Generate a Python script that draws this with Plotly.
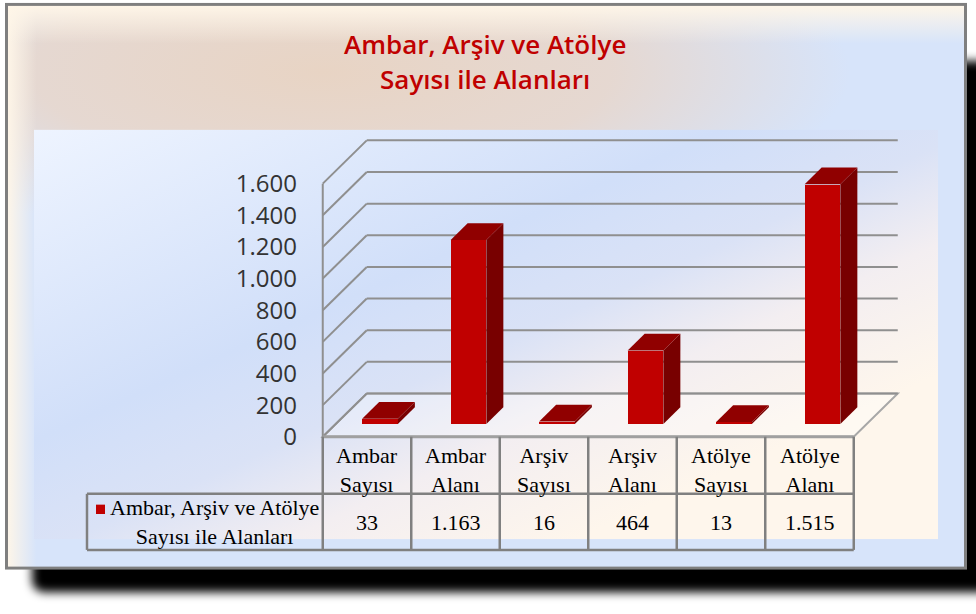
import base64
import plotly.graph_objects as go

# ---------------- data ----------------
categories = ["Ambar Sayısı", "Ambar Alanı", "Arşiv Sayısı", "Arşiv Alanı", "Atölye Sayısı", "Atölye Alanı"]
header_labels = ["Ambar<br>Sayısı", "Ambar<br>Alanı", "Arşiv<br>Sayısı", "Arşiv<br>Alanı", "Atölye<br>Sayısı", "Atölye<br>Alanı"]
values = [33, 1163, 16, 464, 13, 1515]
y_ticks = [0, 200, 400, 600, 800, 1000, 1200, 1400, 1600]
series_name = "Ambar, Arşiv ve Atölye<br>Sayısı ile Alanları"
title_lines = ["Ambar, Arşiv ve Atölye", "Sayısı ile Alanları"]

# ---------------- geometry (page pixels) ----------------
W, H = 976, 614
COL_W = 88.5           # px per category
COL0 = 367.0           # px centre of first category
Y0_PX = 444.0          # px of value 0 (front edge)
PX_PER_UNIT = 32.165 / 200.0
PLOT_L, PLOT_R, PLOT_T, PLOT_B = 318, 904, 136, 449
DEPTH = 44             # wall depth px
BAR_SHIFT = 13         # bar front offset into depth px
BAR_DEPTH = 17         # bar depth px
BAR_W = 35.7           # bar front width px

def dxu(px):
    return px / COL_W

def dyu(px):
    return px / PX_PER_UNIT

def px_x(px):
    return px / W

def px_y(py):
    return 1 - py / H

n = len(categories)
xs = list(range(n))
x_front_left = -0.5
x_front_right = n - 0.5

GRID = "#8F8F8F"
shapes = []

# floor
fl = [(x_front_left, 0), (x_front_right, 0),
      (x_front_right + dxu(DEPTH), dyu(DEPTH)), (x_front_left + dxu(DEPTH), dyu(DEPTH))]
shapes.append(dict(type="path", xref="x", yref="y", layer="below",
                   path="M " + " L ".join(f"{a},{b}" for a, b in fl) + " Z",
                   fillcolor="rgba(255,255,255,0.3)", line=dict(color="#A8A8A8", width=2)))

# gridlines: left wall slant + back wall
for t in y_ticks:
    shapes.append(dict(type="line", xref="x", yref="y", layer="below",
                       x0=x_front_left, y0=t, x1=x_front_left + dxu(DEPTH), y1=t + dyu(DEPTH),
                       line=dict(color=GRID, width=2)))
    shapes.append(dict(type="line", xref="x", yref="y", layer="below",
                       x0=x_front_left + dxu(DEPTH), y0=t + dyu(DEPTH),
                       x1=x_front_right + dxu(DEPTH), y1=t + dyu(DEPTH),
                       line=dict(color=GRID, width=2)))
# left wall front edge
shapes.append(dict(type="line", xref="x", yref="y", layer="below",
                   x0=x_front_left, y0=0, x1=x_front_left, y1=y_ticks[-1],
                   line=dict(color=GRID, width=2)))

# bars: side + top faces
bar_x = [x + dxu(BAR_SHIFT) for x in xs]
bar_base = dyu(BAR_SHIFT)
bw = dxu(BAR_W)
ddx, ddy = dxu(BAR_DEPTH), dyu(BAR_DEPTH)
for xc, v in zip(bar_x, values):
    xl, xr = xc - bw / 2, xc + bw / 2
    top = bar_base + v
    side = [(xr, bar_base), (xr + ddx, bar_base + ddy), (xr + ddx, top + ddy), (xr, top)]
    topf = [(xl, top), (xl + ddx, top + ddy), (xr + ddx, top + ddy), (xr, top)]
    shapes.append(dict(type="path", xref="x", yref="y", layer="above",
                       path="M " + " L ".join(f"{a},{b}" for a, b in side) + " Z",
                       fillcolor="#780000", line=dict(width=0)))
    shapes.append(dict(type="path", xref="x", yref="y", layer="above",
                       path="M " + " L ".join(f"{a},{b}" for a, b in topf) + " Z",
                       fillcolor="#900000", line=dict(width=0)))

# ---------------- data table ----------------
TBL = "#808080"
T_TOP, T_MID, T_BOT, T_LEFT = 444, 502, 559, 87
col_edges = [COL0 + COL_W * (k - 0.5) for k in range(n + 1)]
shapes.append(dict(type="line", xref="paper", yref="paper",
                   x0=px_x(col_edges[0]), x1=px_x(col_edges[-1]), y0=px_y(T_TOP), y1=px_y(T_TOP),
                   line=dict(color="#A0A0A0", width=3)))
for e in col_edges:
    shapes.append(dict(type="line", xref="paper", yref="paper",
                       x0=px_x(e), x1=px_x(e), y0=px_y(T_TOP), y1=px_y(T_BOT),
                       line=dict(color=TBL, width=2.5)))
for yy in (T_MID, T_BOT):
    shapes.append(dict(type="line", xref="paper", yref="paper",
                       x0=px_x(T_LEFT), x1=px_x(col_edges[-1]), y0=px_y(yy), y1=px_y(yy),
                       line=dict(color=TBL, width=2.5)))
shapes.append(dict(type="line", xref="paper", yref="paper",
                   x0=px_x(T_LEFT), x1=px_x(T_LEFT), y0=px_y(T_MID), y1=px_y(T_BOT),
                   line=dict(color=TBL, width=2.5)))
# legend key
shapes.append(dict(type="rect", xref="paper", yref="paper",
                   x0=px_x(96), x1=px_x(105), y0=px_y(513), y1=px_y(522.5),
                   fillcolor="#C00000", line=dict(width=0)))

SERIF = "Liberation Serif"
TFS = 22
annotations = []
for x, lab in zip(xs, header_labels):
    annotations.append(dict(x=x, xref="x", y=px_y(478), yref="paper", text=lab, showarrow=False,
                            xanchor="center", yanchor="middle", align="center",
                            font=dict(family=SERIF, size=TFS, color="#000")))
for x, v in zip(xs, values):
    annotations.append(dict(x=x, xref="x", y=px_y(531), yref="paper",
                            text=f"{v:,}".replace(",", "."), showarrow=False,
                            xanchor="center", yanchor="middle",
                            font=dict(family=SERIF, size=TFS, color="#000")))
annotations.append(dict(x=px_x(214), xref="paper", y=px_y(531), yref="paper", text=series_name,
                        showarrow=False, xanchor="center", yanchor="middle", align="center",
                        font=dict(family=SERIF, size=TFS, color="#000")))
# title (two centred lines)
for line, yc in zip(title_lines, (45, 80.5)):
    annotations.append(dict(x=px_x(485), xref="paper", y=px_y(yc), yref="paper", text=line,
                            showarrow=False, xanchor="center", yanchor="middle",
                            font=dict(family="Open Sans", size=26, color="#C00000", weight=600)))

# ---------------- background (gradients) ----------------
svg = f"""<svg xmlns="http://www.w3.org/2000/svg" width="{W}" height="{H}" viewBox="0 0 {W} {H}">
<defs>
<filter id="blur" x="-5%" y="-5%" width="110%" height="110%"><feGaussianBlur stdDeviation="5"/></filter>
<radialGradient id="peach" cx="0.33" cy="0.12" r="0.55" gradientTransform="translate(0.33 0.12) scale(1 0.55) translate(-0.33 -0.12)">
<stop offset="0" stop-color="#E8D4C4" stop-opacity="1"/>
<stop offset="0.55" stop-color="#E8D6CA" stop-opacity="0.85"/>
<stop offset="1" stop-color="#E8D6CA" stop-opacity="0"/>
</radialGradient>
<linearGradient id="leftglow" x1="0" y1="0" x2="1" y2="0">
<stop offset="0" stop-color="#FFF6E8" stop-opacity="1"/>
<stop offset="1" stop-color="#FFF6E8" stop-opacity="0"/>
</linearGradient>
<linearGradient id="topglow" x1="0" y1="0" x2="0" y2="1">
<stop offset="0" stop-color="#FFF6E8" stop-opacity="1"/>
<stop offset="1" stop-color="#FFF6E8" stop-opacity="0"/>
</linearGradient>
<linearGradient id="inner" x1="0" y1="0" x2="1" y2="1">
<stop offset="0" stop-color="#EEF4FF"/>
<stop offset="0.38" stop-color="#D1DFF9"/>
<stop offset="0.52" stop-color="#DAE2F6"/>
<stop offset="0.64" stop-color="#F3EEF1"/>
<stop offset="0.8" stop-color="#FEF6EC"/>
<stop offset="1" stop-color="#FEF6EC"/>
</linearGradient>
</defs>
<rect x="32" y="62" width="960" height="540" rx="12" fill="#000" filter="url(#blur)"/>
<rect x="6.5" y="4.5" width="959" height="573" fill="#D7E4FA"/>
<rect x="6.5" y="4.5" width="959" height="573" fill="url(#peach)"/>
<rect x="6.5" y="4.5" width="30" height="573" fill="url(#leftglow)"/>
<rect x="6.5" y="4.5" width="959" height="40" fill="url(#topglow)"/>
<rect x="6.5" y="4.5" width="959" height="573" fill="none" stroke="#7F7F7F" stroke-width="3"/>
<rect x="34" y="132" width="904" height="416" fill="url(#inner)"/>
</svg>"""
bg_src = "data:image/svg+xml;base64," + base64.b64encode(svg.encode("utf-8")).decode("ascii")

# ---------------- figure ----------------
fig = go.Figure()
fig.add_trace(go.Bar(x=bar_x, y=values, base=[bar_base] * n, width=bw,
                     name=series_name, marker=dict(color="#C00000", line=dict(width=0)),
                     customdata=categories, hovertemplate="%{customdata}: %{y:,}<extra></extra>",
                     showlegend=False))

fig.update_layout(
    width=W, height=H, autosize=False,
    margin=dict(l=0, r=0, t=0, b=0),
    paper_bgcolor="white", plot_bgcolor="rgba(0,0,0,0)",
    separators=",.",
    xaxis=dict(domain=[px_x(PLOT_L), px_x(PLOT_R)],
               range=[(PLOT_L - COL0) / COL_W, (PLOT_R - COL0) / COL_W],
               showgrid=False, zeroline=False, showticklabels=False, showline=False, fixedrange=True),
    yaxis=dict(domain=[px_y(PLOT_B), px_y(PLOT_T)],
               range=[(Y0_PX - PLOT_B) / PX_PER_UNIT, (Y0_PX - PLOT_T) / PX_PER_UNIT],
               tickvals=y_ticks, tickformat=",d", showgrid=False, zeroline=False, showline=False,
               ticks="", ticklabelstandoff=20,
               tickfont=dict(family="Open Sans", size=24, color="#333333"), fixedrange=True),
    shapes=shapes,
    annotations=annotations,
    images=[dict(source=bg_src, xref="paper", yref="paper", x=0, y=1, sizex=1, sizey=1,
                 xanchor="left", yanchor="top", sizing="stretch", layer="below")],
    bargap=0,
)

fig.write_html("out.html", config={"displayModeBar": False},
               post_script="document.body.style.margin='0';document.body.style.overflow='hidden';")
